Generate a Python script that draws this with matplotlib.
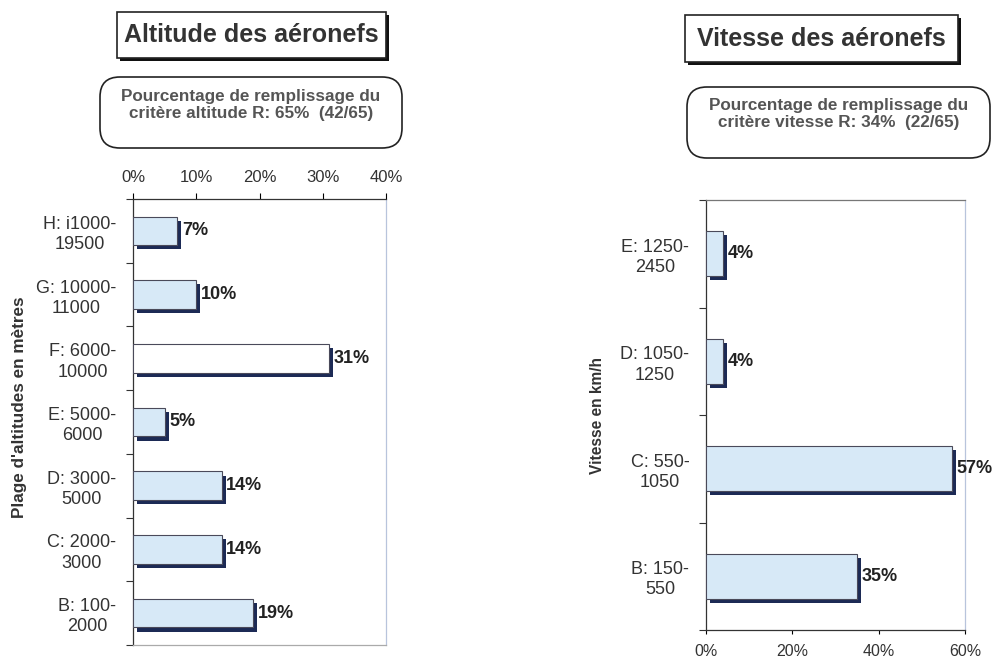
import matplotlib
matplotlib.use("Agg")
import matplotlib.pyplot as plt
from matplotlib.patches import FancyBboxPatch, Rectangle
from matplotlib import patheffects as pe
import numpy as np

plt.rcParams['font.family'] = ['Liberation Sans', 'DejaVu Sans']

# ---- data ----
alt_labels = ["B: 100-\n2000", "C: 2000-\n3000", "D: 3000-\n5000", "E: 5000-\n6000",
              "F: 6000-\n10000", "G: 10000-\n11000", "H: i1000-\n19500"]
alt_values = [19, 14, 14, 5, 31, 10, 7]
alt_ticks = [0, 10, 20, 30, 40]

vit_labels = ["B: 150-\n550", "C: 550-\n1050", "D: 1050-\n1250", "E: 1250-\n2450"]
vit_values = [35, 57, 4, 4]
vit_ticks = [0, 20, 40, 60]

W, H = 993, 657
fig = plt.figure(figsize=(W / 100, H / 100), dpi=100)

def fx(px):
    return px / W

def fy(py):
    return 1 - py / H

BAR_FILL = "#d7e9f7"
NAVY = "#1c2a55"
TXT = "#333333"

def draw_bars(ax, labels, values, fills, height):
    y = np.arange(len(values))
    bars = ax.barh(y, values, height=height, color=fills, edgecolor="#4a4a5a", linewidth=0.8,
                   zorder=3)
    for b in bars:
        b.set_path_effects([pe.SimplePatchShadow(offset=(3, -3), shadow_rgbFace=NAVY, alpha=1.0),
                            pe.Normal()])
    xmax = ax.get_xlim()[1]
    for yi, v in zip(y, values):
        ax.text(v + 0.018 * xmax, yi, f"{v}%", va="center", ha="left",
                fontsize=13, fontweight="bold", color="#222222", zorder=4)
    ax.set_yticks(y)
    ax.set_yticklabels(labels, fontsize=13, color=TXT, multialignment="center", linespacing=1.25)
    ax.set_yticks(np.arange(-0.5, len(values), 1.0), minor=True)
    ax.tick_params(axis="y", which="major", length=0, pad=12)
    ax.tick_params(axis="y", which="minor", length=5, width=0.8, color="#333333", direction="out")
    ax.set_ylim(-0.5, len(values) - 0.5)

# ---- left chart ----
ax1 = fig.add_axes([fx(133), fy(645), fx(386) - fx(133), fy(199) - fy(645)])
ax1.set_xlim(0, 40)
fills1 = [BAR_FILL] * len(alt_values)
fills1[4] = "white"
draw_bars(ax1, alt_labels, alt_values, fills1, 0.45)
ax1.xaxis.tick_top()
ax1.set_xticks(alt_ticks)
ax1.set_xticklabels([f"{t}%" for t in alt_ticks], fontsize=12, color=TXT)
ax1.tick_params(axis="x", length=4, width=0.8, pad=6)
ax1.spines["left"].set_color("#333333")
ax1.spines["top"].set_color("#333333")
ax1.spines["right"].set_color("#b8c4dc")
ax1.spines["right"].set_linestyle((0, (2, 1)))
ax1.spines["bottom"].set_color("#aaaaaa")
for s in ax1.spines.values():
    s.set_linewidth(0.9)
fig.text(fx(20), fy(407), "Plage d'altitudes en mètres", rotation=90, ha="center", va="center",
         fontsize=12.3, fontweight="bold", color=TXT)

# ---- right chart ----
ax2 = fig.add_axes([fx(706), fy(630), fx(965) - fx(706), fy(200) - fy(630)])
ax2.set_xlim(0, 60)
draw_bars(ax2, vit_labels, vit_values, [BAR_FILL] * len(vit_values), 0.42)
ax2.set_xticks(vit_ticks)
ax2.set_xticklabels([f"{t}%" for t in vit_ticks], fontsize=11.5, color=TXT)
ax2.tick_params(axis="x", length=3, width=0.8, pad=7)
ax2.spines["left"].set_color("#333333")
ax2.spines["bottom"].set_color("#333333")
ax2.spines["top"].set_color("#777777")
ax2.spines["right"].set_color("#b8c4dc")
ax2.spines["right"].set_linestyle((0, (2, 1)))
for s in ax2.spines.values():
    s.set_linewidth(0.9)
fig.text(fx(598), fy(416), "Vitesse en km/h", rotation=90, ha="center", va="center",
         fontsize=11.2, fontweight="bold", color=TXT)

# ---- title boxes ----
def title_box(x0, y0, x1, y1, text):
    shadow = Rectangle((fx(x0) + fx(3), fy(y1) - 3 / H), fx(x1) - fx(x0), fy(y0) - fy(y1),
                       transform=fig.transFigure, facecolor="#111111", edgecolor="none", zorder=1)
    box = Rectangle((fx(x0), fy(y1)), fx(x1) - fx(x0), fy(y0) - fy(y1),
                    transform=fig.transFigure, facecolor="white", edgecolor="#222222",
                    linewidth=1.2, zorder=2)
    fig.patches.extend([shadow, box])
    fig.text((fx(x0) + fx(x1)) / 2, (fy(y0) + fy(y1)) / 2, text, ha="center", va="center",
             fontsize=18, fontweight="bold", color="#333333", zorder=3)

title_box(117, 12, 386, 58, "Altitude des aéronefs")
title_box(685, 15, 958, 62, "Vitesse des aéronefs")

def sub_box(x0, y0, x1, y1, text, ty):
    box = FancyBboxPatch((fx(x0), fy(y1)), fx(x1) - fx(x0), fy(y0) - fy(y1),
                         boxstyle="round,pad=0,rounding_size=0.02",
                         transform=fig.transFigure, facecolor="white", edgecolor="#222222",
                         linewidth=1.2, mutation_aspect=W / H)
    fig.patches.append(box)
    fig.text((fx(x0) + fx(x1)) / 2, fy(ty), text, ha="center", va="center",
             fontsize=12.3, fontweight="bold", color="#555555", linespacing=1.2)

sub_box(100, 77, 402, 148, "Pourcentage de remplissage du\ncritère altitude R: 65%  (42/65)", 105)
sub_box(687, 87, 990, 158, "Pourcentage de remplissage du\ncritère vitesse R: 34%  (22/65)", 114)

fig.savefig("out.png", dpi=100)
